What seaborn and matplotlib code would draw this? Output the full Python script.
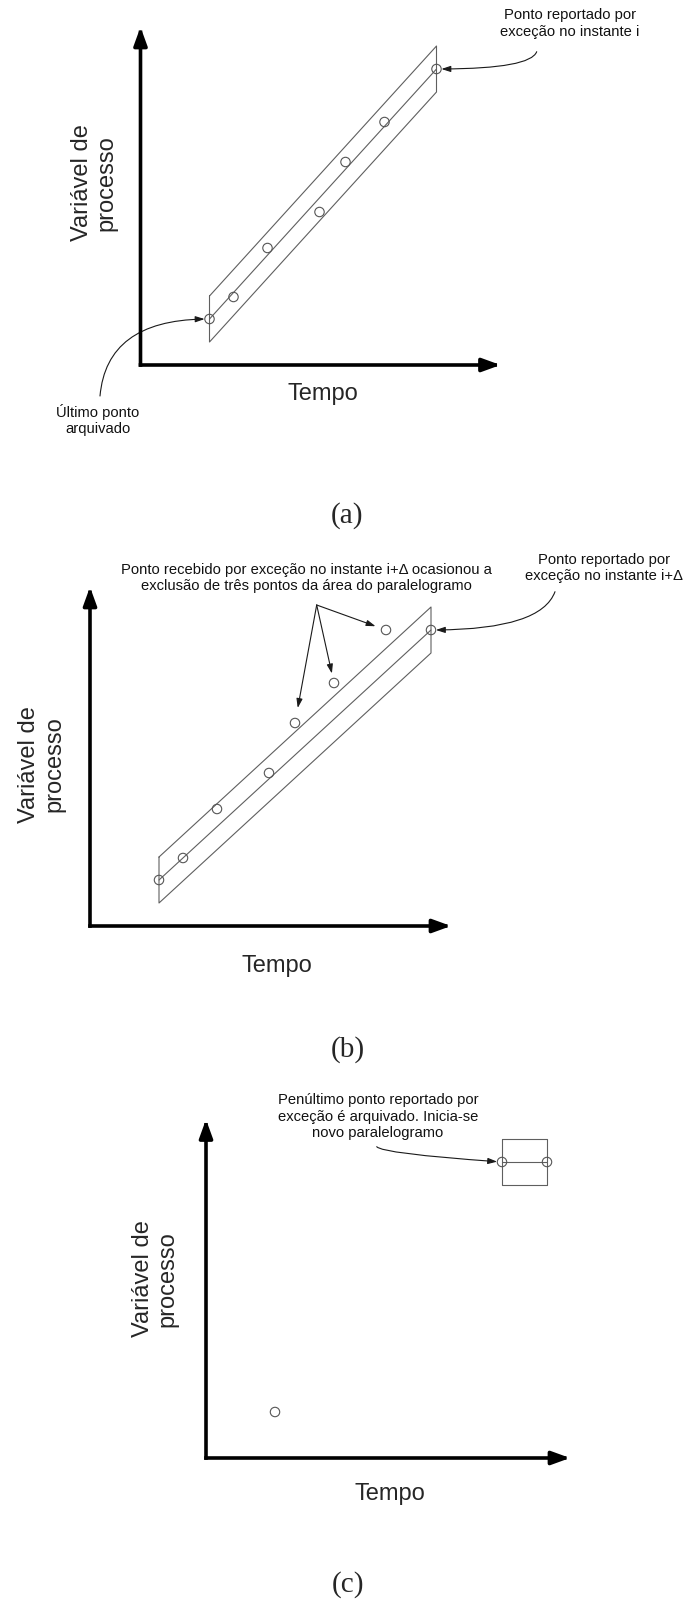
import matplotlib
matplotlib.use("Agg")
import matplotlib.pyplot as plt
import seaborn as sns
import pandas as pd

# ---------------- data ----------------
tempo = [69, 93, 127, 179, 205, 244, 296, 341]
valor = [46, 68, 117, 153, 203, 243, 296, 296]
meia_largura_faixa = 23

pontos_a = [0, 1, 2, 3, 4, 5, 6]
pontos_b = [0, 1, 2, 3, 4, 5, 6, 7]
pontos_c = [0, 6, 7]
faixa_a = [0, 6]
faixa_b = [0, 7]
faixa_c = [6, 7]
excluidos_b = [4, 5, 6]

rotulo_x = "Tempo"
rotulo_y = "Variável de\nprocesso"
legendas_paineis = ["(a)", "(b)", "(c)"]
nota_a_fim = "Ponto reportado por\nexceção no instante i"
nota_a_inicio = "Último ponto\narquivado"
nota_b_excl = ("Ponto recebido por exceção no instante i+Δ ocasionou a\n"
               "exclusão de três pontos da área do paralelogramo")
nota_b_fim = "Ponto reportado por\nexceção no instante i+Δ"
nota_c = ("Penúltimo ponto reportado por\nexceção é arquivado. Inicia-se\n"
          "novo paralelogramo")

# ---------------- figure ----------------
sns.set_theme(style="white")
plt.rcParams['font.family'] = ['Liberation Sans', 'DejaVu Sans']

fam_nota = ['Liberation Sans', 'DejaVu Sans']
fs_nota = 10.6

W, H = 688, 1603
fig = plt.figure(figsize=(W / 100, H / 100), dpi=100)
fig.patch.set_facecolor('white')

tela = fig.add_axes([0, 0, 1, 1])
tela.set_xlim(0, W)
tela.set_ylim(H, 0)
tela.axis('off')

LINHA = '#5f5f5f'
PONTO = '#555555'
SETA = '#1a1a1a'


def painel(ox, oy, w, h, idx, fx):
    ax = fig.add_axes([ox / W, 1 - oy / H, w / W, h / H])
    df = pd.DataFrame({'Tempo': [tempo[i] for i in idx],
                       'Valor': [valor[i] for i in idx]})
    sns.scatterplot(data=df, x='Tempo', y='Valor', ax=ax, s=46,
                    color=PONTO, linewidth=0.8, zorder=3)
    coll = ax.collections[-1]
    coll.set_facecolor('none')
    coll.set_edgecolor(PONTO)
    # parallelogram (compression band)
    i, j = fx
    x0, x1 = tempo[i], tempo[j]
    y0, y1 = valor[i], valor[j]
    hh = meia_largura_faixa
    ax.plot([x0, x1, x1, x0, x0], [y0 + hh, y1 + hh, y1 - hh, y0 - hh, y0 + hh],
            color=LINHA, lw=0.8, zorder=2)
    ax.plot([x0, x1], [y0, y1], color=LINHA, lw=0.8, zorder=2)
    ax.set_xlim(0, w)
    ax.set_ylim(0, h)
    ax.set_facecolor('none')
    for s in ax.spines.values():
        s.set_visible(False)
    ax.set_xticks([])
    ax.set_yticks([])
    ax.set_xlabel('')
    ax.set_ylabel('')
    kw = dict(arrowstyle='-|>,head_length=0.55,head_width=0.2', lw=2.6,
              color='black', mutation_scale=20, shrinkA=0, shrinkB=0,
              capstyle='projecting')
    ax.annotate('', xy=(1, 0), xytext=(0, 0), xycoords='axes fraction',
                arrowprops=kw, annotation_clip=False)
    ax.annotate('', xy=(0, 1), xytext=(0, 0), xycoords='axes fraction',
                arrowprops=kw, annotation_clip=False)
    return ax


ax_a = painel(140.5, 365, 360, 338, pontos_a, faixa_a)
ax_b = painel(90, 926, 361, 339, pontos_b, faixa_b)
ax_c = painel(206, 1458, 364, 338.5, pontos_c, faixa_c)


def seta(ax, idx, inicio, conn, shrinkB=3.5):
    tela.annotate('', xy=(tempo[idx], valor[idx]), xycoords=ax.transData,
                  xytext=inicio, textcoords='data',
                  arrowprops=dict(arrowstyle='-|>,head_length=0.55,head_width=0.18',
                                  mutation_scale=10, lw=0.8, color=SETA,
                                  shrinkA=0, shrinkB=shrinkB,
                                  connectionstyle=conn))


# panel (a) annotations
seta(ax_a, 6, (536.7, 51.7), "angle3,angleA=70,angleB=0")
seta(ax_a, 0, (100, 396), "angle3,angleA=85,angleB=0")
# panel (b)
seta(ax_b, 7, (555, 591.7), "angle3,angleA=70,angleB=0")
for k, sh in zip(excluidos_b, [11, 7, 8]):
    seta(ax_b, k, (316.7, 605), "arc3,rad=0", shrinkB=sh)
# panel (c)
seta(ax_c, 6, (376.7, 1146.7), "angle3,angleA=-50,angleB=-4")

nota_kw = dict(ha='center', va='center', fontsize=fs_nota, family=fam_nota,
               linespacing=1.25, color='#111')
tela.text(570, 23.5, nota_a_fim, **nota_kw)
tela.text(98, 420, nota_a_inicio, **nota_kw)
tela.text(306, 578, nota_b_excl, **nota_kw)
tela.text(604, 568, nota_b_fim, **nota_kw)
tela.text(378, 1116.5, nota_c, **nota_kw)

pos_tempo = [(323, 394), (277, 966), (389.5, 1494)]
pos_var = [(94.6, 183), (41.7, 764.5), (155.5, 1279)]
pos_cap = [(346.5, 516), (348, 1050), (348, 1585)]
for (tx, ty), (vx, vy), (cx, cy), cap in zip(pos_tempo, pos_var, pos_cap,
                                             legendas_paineis):
    tela.text(tx, ty, rotulo_x, ha='center', va='center', fontsize=17)
    tela.text(vx, vy, rotulo_y, ha='center', va='center', fontsize=17,
              rotation=90, multialignment='center', linespacing=1.15)
    tela.text(cx, cy, cap, ha='center', va='center', fontsize=21,
              family=['Liberation Serif', 'DejaVu Serif'])

fig.savefig('out.png', dpi=100, facecolor='white')
